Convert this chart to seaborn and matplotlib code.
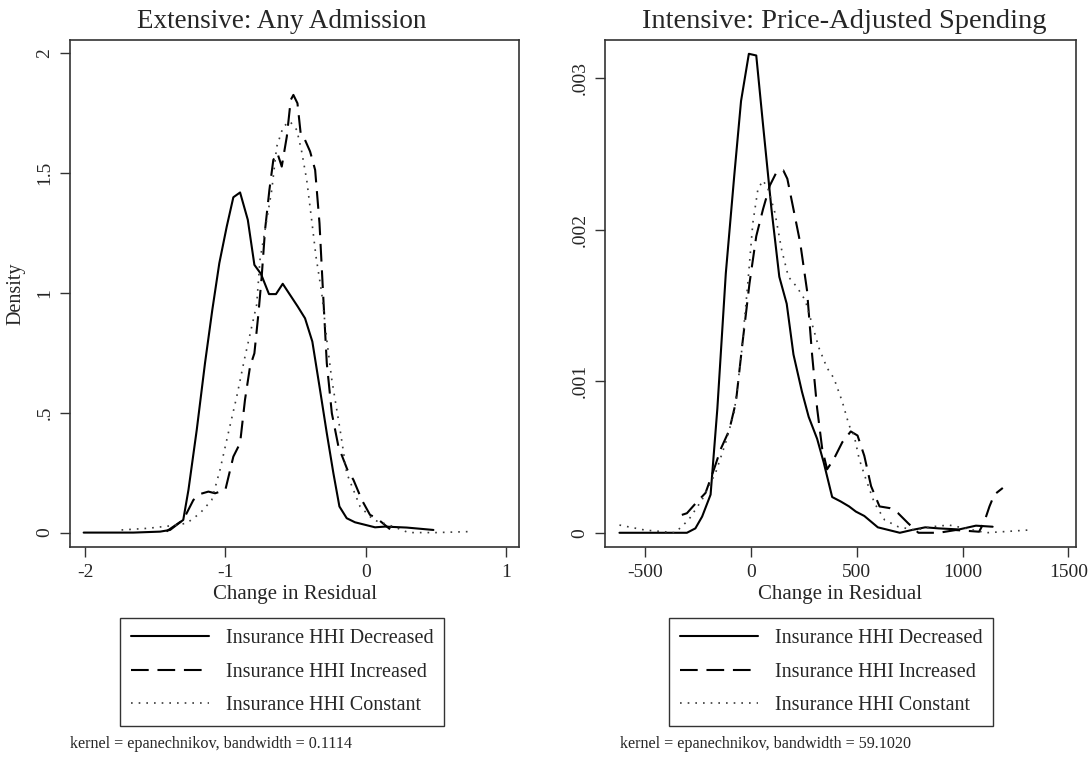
import numpy as np
import pandas as pd
import seaborn as sns
import matplotlib
matplotlib.use("Agg")
import matplotlib.pyplot as plt

# ---- Extensive margin: change in residual of any admission ----
ext_dec_x = [-2.01, -1.656, -1.465, -1.394, -1.30, -1.263, -1.204, -1.145, -1.093, -1.043,
             -0.990, -0.943, -0.895, -0.840, -0.793, -0.746, -0.689, -0.639, -0.591, -0.484,
             -0.432, -0.380, -0.325, -0.277, -0.230, -0.187, -0.135, -0.076, 0.067, 0.138,
             0.293, 0.483]
ext_dec_y = [0.0, 0.0, 0.004, 0.011, 0.053, 0.178, 0.428, 0.707, 0.929, 1.124,
             1.277, 1.399, 1.419, 1.305, 1.117, 1.079, 0.995, 0.995, 1.038, 0.943,
             0.894, 0.797, 0.595, 0.415, 0.248, 0.109, 0.060, 0.043, 0.022, 0.025,
             0.021, 0.011]

ext_inc_x = [-1.42, -1.30, -1.228, -1.180, -1.121, -1.073, -1.0, -0.943, -0.895, -0.860,
             -0.824, -0.793, -0.764, -0.741, -0.717, -0.686, -0.658, -0.629, -0.598, -0.562,
             -0.534, -0.515, -0.486, -0.462, -0.432, -0.396, -0.360, -0.329, -0.301, -0.277,
             -0.241, -0.194, -0.130, -0.087, -0.027, 0.031, 0.079, 0.174]
ext_inc_y = [0.005, 0.053, 0.136, 0.161, 0.171, 0.164, 0.178, 0.317, 0.373, 0.554,
             0.693, 0.748, 0.915, 1.068, 1.263, 1.430, 1.555, 1.583, 1.527, 1.652,
             1.805, 1.826, 1.791, 1.659, 1.638, 1.590, 1.513, 1.291, 0.971, 0.707,
             0.498, 0.359, 0.262, 0.220, 0.136, 0.074, 0.060, 0.014]

ext_con_x = [-1.74, -1.55, -1.394, -1.275, -1.18, -1.097, -1.038, -0.979, -0.919, -0.860,
             -0.812, -0.777, -0.753, -0.717, -0.669, -0.634, -0.587, -0.539, -0.491, -0.456,
             -0.420, -0.385, -0.354, -0.313, -0.277, -0.241, -0.182, -0.135, -0.040, 0.055,
             0.198, 0.305, 0.50, 0.732]
ext_con_y = [0.011, 0.018, 0.028, 0.039, 0.081, 0.136, 0.262, 0.415, 0.567, 0.734,
             0.859, 0.950, 1.138, 1.263, 1.430, 1.610, 1.694, 1.715, 1.680, 1.590,
             1.471, 1.305, 1.152, 0.999, 0.804, 0.637, 0.428, 0.248, 0.109, 0.053,
             0.025, 0.0, 0.0, 0.004]

# ---- Intensive margin: change in residual of price-adjusted spending (density x 1000) ----
int_dec_x = [-623, -304, -264, -232, -192, -160, -120, -80, -48, -11,
             24, 56, 96, 133, 168, 200, 240, 272, 312, 343,
             383, 423, 463, 495, 535, 599, 703, 759, 823, 887,
             983, 1063, 1142]
int_dec_y = [0.0, 0.0, 0.029, 0.107, 0.252, 0.820, 1.713, 2.359, 2.850, 3.162,
             3.151, 2.694, 2.136, 1.690, 1.512, 1.177, 0.932, 0.765, 0.620, 0.464,
             0.236, 0.207, 0.174, 0.140, 0.111, 0.036, 0.0, 0.018, 0.036, 0.029,
             0.022, 0.047, 0.040]

int_inc_x = [-328, -304, -264, -216, -176, -144, -104, -72, -40, -8,
             24, 56, 88, 120, 152, 171, 200, 232, 264, 288,
             312, 336, 359, 391, 431, 471, 503, 535, 567, 607,
             655, 695, 743, 791, 887, 967, 1078, 1103, 1127, 1150,
             1190]
int_inc_y = [0.118, 0.129, 0.192, 0.263, 0.419, 0.553, 0.676, 0.865, 1.267, 1.646,
             1.958, 2.136, 2.292, 2.381, 2.392, 2.337, 2.136, 1.913, 1.601, 1.177,
             0.820, 0.553, 0.419, 0.487, 0.598, 0.669, 0.642, 0.508, 0.308, 0.174,
             0.163, 0.129, 0.062, 0.0, 0.0, 0.018, 0.007, 0.074, 0.174, 0.252,
             0.296]

int_con_x = [-623, -503, -360, -296, -232, -168, -120, -80, -48, -16,
             8, 32, 56, 80, 112, 144, 176, 216, 256, 288,
             320, 359, 391, 431, 463, 487, 511, 543, 583, 631,
             695, 775, 855, 935, 1015, 1110, 1190, 1310]
int_con_y = [0.051, 0.018, 0.0, 0.085, 0.219, 0.397, 0.598, 0.798, 1.155, 1.646,
             2.047, 2.270, 2.326, 2.270, 2.114, 1.869, 1.690, 1.623, 1.534, 1.378,
             1.222, 1.088, 1.021, 0.865, 0.709, 0.642, 0.486, 0.352, 0.196, 0.085,
             0.040, 0.018, 0.040, 0.051, 0.029, 0.0, 0.007, 0.018]

series_labels = ["Insurance HHI Decreased", "Insurance HHI Increased", "Insurance HHI Constant"]

panel_titles = ["Extensive: Any Admission", "Intensive: Price-Adjusted Spending"]
x_label = "Change in Residual"
y_label = "Density"

ext_xticks = [-2, -1, 0, 1]
ext_xticklabels = ["-2", "-1", "0", "1"]
ext_yticks = [0, 0.5, 1, 1.5, 2]
ext_yticklabels = ["0", ".5", "1", "1.5", "2"]

int_xticks = [-500, 0, 500, 1000, 1500]
int_xticklabels = ["-500", "0", "500", "1000", "1500"]
int_yticks = [0, 0.001, 0.002, 0.003]
int_yticklabels = ["0", ".001", ".002", ".003"]

notes = ["kernel = epanechnikov, bandwidth = 0.1114",
         "kernel = epanechnikov, bandwidth = 59.1020"]

sns.set_theme(style="white")
plt.rcParams["font.family"] = ["Liberation Serif", "DejaVu Serif"]
plt.rcParams["axes.edgecolor"] = "#333333"

fig = plt.figure(figsize=(10.91, 7.58), dpi=100)
ax1 = fig.add_axes([0.0642, 0.2784, 0.4115, 0.6688])
ax2 = fig.add_axes([0.5545, 0.2784, 0.4317, 0.6688])

styles = [
    dict(color="black", linewidth=1.5, linestyle="-"),
    dict(color="black", linewidth=1.5, linestyle=(0, (8.5, 4.2))),
    dict(color="#3a3a3a", linewidth=1.2, linestyle=(0, (1, 3.6))),
]


def draw_panel(ax, curves, scale):
    for (xs, ys), st, lab in zip(curves, styles, series_labels):
        df = pd.DataFrame({"x": xs, "y": np.asarray(ys) * scale})
        sns.lineplot(data=df, x="x", y="y", ax=ax, sort=False, estimator=None,
                     label=lab, **st)


draw_panel(ax1, [(ext_dec_x, ext_dec_y), (ext_inc_x, ext_inc_y), (ext_con_x, ext_con_y)], 1.0)
draw_panel(ax2, [(int_dec_x, int_dec_y), (int_inc_x, int_inc_y), (int_con_x, int_con_y)], 0.001)

ax1.set_xlim(-2.107, 1.093)
ax1.set_ylim(-0.06, 2.055)
ax1.set_xticks(ext_xticks)
ax1.set_xticklabels(ext_xticklabels)
ax1.set_yticks(ext_yticks)
ax1.set_yticklabels(ext_yticklabels, rotation=90, va="center")

ax2.set_xlim(-691.6, 1536)
ax2.set_ylim(-0.0000937, 0.003253)
ax2.set_xticks(int_xticks)
ax2.set_xticklabels(int_xticklabels)
ax2.set_yticks(int_yticks)
ax2.set_yticklabels(int_yticklabels, rotation=90, va="center")

for ax in [ax1, ax2]:
    ax.set_xlabel(x_label, fontsize=15, labelpad=3)
    ax.set_ylabel("")
    ax.tick_params(axis="both", which="major", direction="out", length=7, width=1,
                   color="#333333", labelsize=14, pad=5, bottom=True, left=True)
    for sp in ax.spines.values():
        sp.set_linewidth(1.2)
        sp.set_color("#333333")
    ax.grid(False)
    ax.get_legend().remove()

ax1.set_ylabel(y_label, fontsize=14.5, labelpad=8)

# panel titles
fig.text(282 / 1091, 1 - 28 / 758, panel_titles[0], fontsize=19.5, ha="center", va="baseline")
fig.text(844 / 1091, 1 - 28 / 758, panel_titles[1], fontsize=20.5, ha="center", va="baseline")

for ax, cx in zip([ax1, ax2], [282 / 1091, 831 / 1091]):
    h, l = ax.get_legend_handles_labels()
    leg = ax.legend(h, l, loc="upper center", bbox_to_anchor=(cx, 1 - 618 / 758),
                    bbox_transform=fig.transFigure, fontsize=14.5, frameon=True,
                    fancybox=False, edgecolor="black", handlelength=3.9,
                    handletextpad=0.8, labelspacing=0.72, borderpad=0.55,
                    borderaxespad=0)
    leg.get_frame().set_linewidth(1.0)

fig.text(70 / 1091, 1 - 744 / 758, notes[0], fontsize=11.6, va="center", ha="left")
fig.text(620 / 1091, 1 - 744 / 758, notes[1], fontsize=11.6, va="center", ha="left")

fig.savefig("out.png", dpi=100, facecolor="white")
